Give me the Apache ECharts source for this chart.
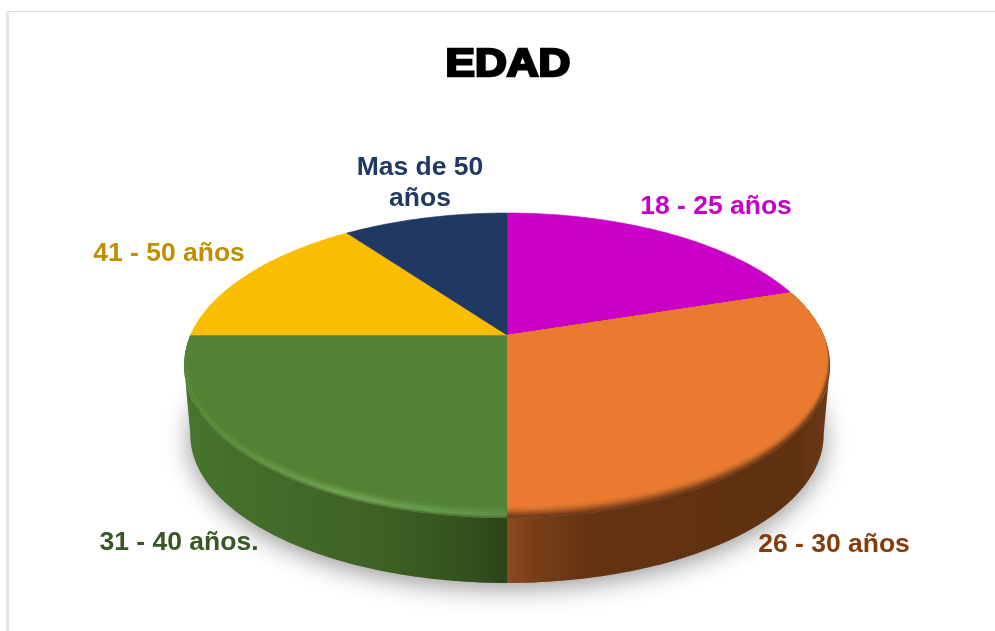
<!DOCTYPE html>
<html>
<head>
<meta charset="utf-8">
<title>EDAD</title>
<script src="https://cdn.jsdelivr.net/npm/echarts@6/dist/echarts.min.js"></script>
<style>
html, body { margin: 0; padding: 0; background: #fff; overflow: hidden; }
#main { width: 995px; height: 631px; }
</style>
</head>
<body>
<div id="main"></div>
<script>
const titleText = "EDAD";
const categories = ["18 - 25 años", "26 - 30 años", "31 - 40 años.", "41 - 50 años", "Mas de 50\naños"];
const values = [20, 30, 25, 15, 10];

const sliceColors = ["#c800c8", "#e97a30", "#548235", "#fbbd00", "#1f3864"];
const labelColors = ["#c600c6", "#843c0c", "#385723", "#bf8f00", "#1f3864"];
const labelCenters = [[716, 207], [834, 545], [179, 543], [169, 254], [420, 183]];

// pie layout in px, the top face is a circle seen in perspective
const centerX = 507;
const centerY = 335;
const radiusX = 316.5;
const radiusY = 146.4;
const persp = 0.2;
const ellipseMidY = -30.5 / radiusY;
const depth = 69.5 / radiusY;
const frontLimit = (Math.acos(-persp) * 180) / Math.PI;

const total = values.reduce((a, b) => a + b, 0);
const starts = [];
values.reduce((acc, v, i) => {
	starts[i] = (acc / total) * 360;
	return acc + v;
}, 0);

const project = (deg) => {
	const t = (deg * Math.PI) / 180;
	const u = Math.sin(t);
	const v = Math.cos(t);
	return [u / (1 + persp * v), v / (1 + persp * v)];
};
const projectBottom = (deg) => {
	const p = project(deg);
	return [p[0] * 0.98, (p[1] - ellipseMidY) * 0.97 + ellipseMidY - depth];
};

const arcDegrees = (a0, a1) => {
	const list = [];
	const n = Math.max(2, Math.ceil(a1 - a0));
	for (let i = 0; i <= n; i++) list.push(a0 + ((a1 - a0) * i) / n);
	return list;
};

const hGrad = (stops) => ({
	type: "linear", x: 0, y: 0, x2: 1, y2: 0,
	colorStops: stops.map((s) => ({ offset: s[0], color: s[1] })),
});

const sideFill = [
	null,
	hGrad([[0, "#8a4a20"], [0.08, "#7a3f19"], [0.25, "#643311"], [0.9, "#5f3111"], [1, "#6d3a16"]]),
	hGrad([[0, "#47752c"], [0.3, "#426a28"], [0.6, "#3e6224"], [0.88, "#33511d"], [1, "#2b4419"]]),
	null,
	null,
];

// soft rim of the top face, outer layer first: [shrink x, shrink y, fill]
const rimLayers = {
	1: [
		[1, 1, "#70391a"], [0.998, 0.992, "#7f4119"], [0.996, 0.984, "#914b1e"],
		[0.994, 0.976, "#a55622"], [0.992, 0.968, "#b96226"], [0.99, 0.96, "#cb6c2a"],
		[0.988, 0.952, "#d9742d"], [0.986, 0.944, "#e2782f"],
	],
	2: [
		[1, 1, hGrad([[0, "#4a7a2e"], [0.5, "#557f38"], [1, "#4a7030"]])],
		[0.998, 0.992, hGrad([[0, "#508234"], [0.5, "#659a49"], [1, "#568a3e"]])],
		[0.996, 0.984, hGrad([[0, "#558a37"], [0.5, "#70a553"], [1, "#5e9246"]])],
		[0.994, 0.976, hGrad([[0, "#558a37"], [0.5, "#6ca04e"], [1, "#5c8f43"]])],
		[0.992, 0.968, hGrad([[0, "#558836"], [0.5, "#659947"], [1, "#598c3f"]])],
		[0.99, 0.96, hGrad([[0, "#548635"], [0.5, "#5f9242"], [1, "#57893b"]])],
		[0.988, 0.952, hGrad([[0, "#548435"], [0.5, "#5a8c3c"], [1, "#558638"]])],
		[0.986, 0.944, hGrad([[0, "#548335"], [0.5, "#568637"], [1, "#548335"]])],
	],
};
const rimInner = [0.984, 0.936];

const poly = (api, pts, fill, stroke) => ({
	type: "polygon",
	shape: { points: pts.map((p) => api.coord(p)) },
	style: { fill: fill, stroke: stroke || null, lineWidth: stroke ? 0.6 : 0 },
});

const renderShadow = (params, api) => {
	const pts = arcDegrees(0, 360).map((d) => api.coord(projectBottom(d)));
	return {
		type: "polygon",
		shape: { points: pts },
		style: {
			fill: "#8a8a8a",
			shadowBlur: 26,
			shadowColor: "rgba(0,0,0,0.42)",
			shadowOffsetY: 5,
		},
	};
};

const renderSlice = (params, api) => {
	const i = params.dataIndex;
	const a0 = starts[i];
	const a1 = a0 + (api.value(1) / total) * 360;
	const children = [];

	const s0 = Math.max(a0, frontLimit);
	const s1 = Math.min(a1, 360 - frontLimit);
	if (s1 > s0 && sideFill[i]) {
		const degs = arcDegrees(s0, s1);
		const pts = degs.map(project).concat(degs.slice().reverse().map(projectBottom));
		children.push(poly(api, pts, sideFill[i]));
	}

	// the rim only shows on the near half, it fades out toward the back edge
	const sector = (sx, sy) => [[0, 0]].concat(arcDegrees(a0, a1).map((d) => {
		const p = project(d);
		const near = Math.min(1, Math.max(0, -p[1] / 0.35));
		return [p[0] * (1 - (1 - sx) * near), p[1] * (1 - (1 - sy) * near)];
	}));
	const layers = rimLayers[i] || [];
	layers.forEach((layer) => {
		children.push(poly(api, sector(layer[0], layer[1]), layer[2]));
	});
	const inner = layers.length ? rimInner : [1, 1];
	children.push(poly(api, sector(inner[0], inner[1]), sliceColors[i], layers.length ? null : sliceColors[i]));

	children.push({
		type: "text",
		x: labelCenters[i][0],
		y: labelCenters[i][1],
		z2: 10,
		style: {
			text: categories[i],
			fill: labelColors[i],
			font: 'bold 26.5px "Liberation Sans", Arial, sans-serif',
			align: "center",
			verticalAlign: "middle",
			lineHeight: 31,
		},
	});
	return { type: "group", children: children };
};

const chart = echarts.init(document.getElementById("main"), null, { renderer: "canvas" });
chart.setOption({
	animation: false,
	backgroundColor: "#fff",
	graphic: [
		{
			type: "rect",
			silent: true,
			z: -1,
			shape: { x: 7, y: 11.5, width: 1100, height: 800 },
			style: { fill: "none", stroke: "#dcdcdc", lineWidth: 1 },
		},
		{
			type: "rect",
			silent: true,
			z: -1,
			shape: { x: 6, y: 12, width: 3, height: 640 },
			style: { fill: "#e6e6e6" },
		},
		{
			type: "text",
			x: 508,
			y: 65,
			scaleX: 1.13,
			z: 20,
			style: {
				text: titleText,
				fill: "#000",
				stroke: "#000",
				lineWidth: 2.5,
				font: 'bold 39px "Liberation Sans", Arial, sans-serif',
				align: "center",
				verticalAlign: "middle",
			},
		},
	],
	grid: {
		left: centerX - radiusX * 1.5,
		width: radiusX * 3,
		top: centerY - radiusY * 1.5,
		height: radiusY * 3,
	},
	xAxis: { type: "value", min: -1.5, max: 1.5, show: false },
	yAxis: { type: "value", min: -1.5, max: 1.5, show: false },
	series: [
		{
			type: "custom",
			silent: true,
			clip: false,
			coordinateSystem: "cartesian2d",
			renderItem: renderShadow,
			data: [[0, 0]],
		},
		{
			type: "custom",
			silent: true,
			clip: false,
			coordinateSystem: "cartesian2d",
			renderItem: renderSlice,
			data: values.map((v, i) => [i, v]),
		},
	],
});
</script>
</body>
</html>
